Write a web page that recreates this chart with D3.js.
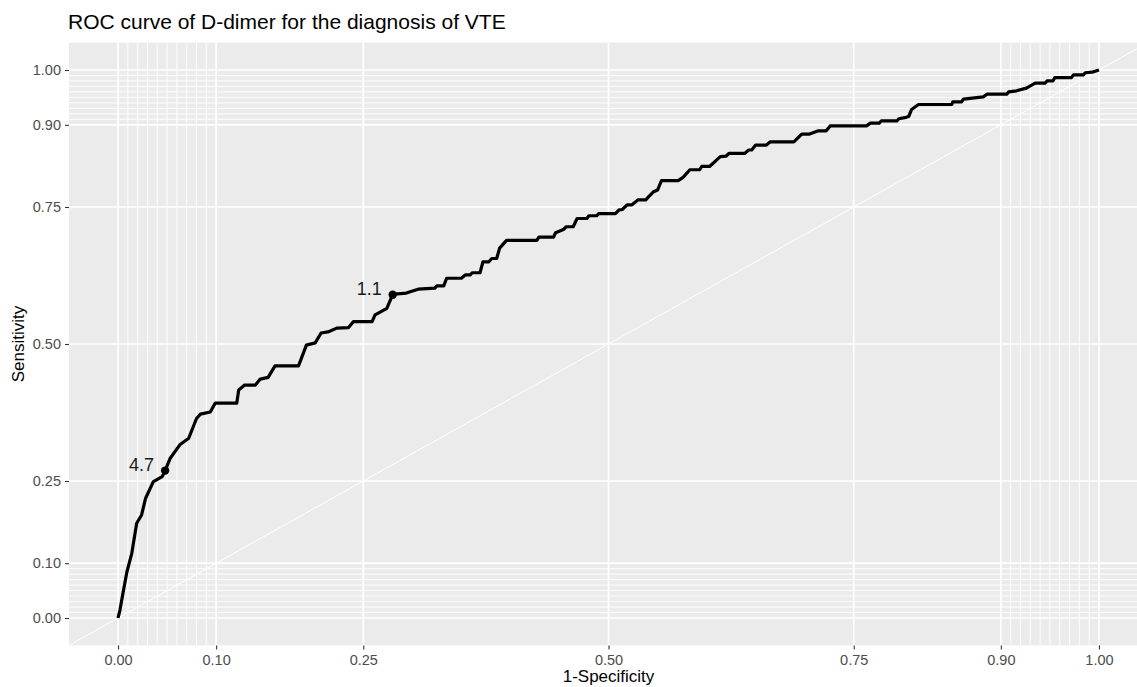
<!DOCTYPE html>
<html lang="en">
<head>
  <meta charset="UTF-8">
  <title>ROC curve of D-dimer</title>
  <script src="https://d3js.org/d3.v7.min.js"></script>
  <style>
    body { margin: 0; background: #fff; }
    svg { display: block; font-family: "Liberation Sans", Arial, sans-serif; }
    .tick text { fill: #4d4d4d; font-size: 14.5px; }
    .tick line { stroke: #333; }
  </style>
</head>
<body>
<svg width="1137" height="687"></svg>
<script>
  // ROC curve points (1-specificity, sensitivity)
  const fpr = [0, 0.002, 0.005, 0.009, 0.014, 0.019, 0.024, 0.028, 0.036, 0.045, 0.048, 0.053, 0.063, 0.072,
    0.080, 0.084, 0.094, 0.099, 0.121, 0.123, 0.129, 0.140, 0.145, 0.153, 0.160, 0.184, 0.192, 0.201,
    0.207, 0.214, 0.223, 0.235, 0.240, 0.259, 0.262, 0.269, 0.274, 0.280, 0.282, 0.294, 0.297, 0.306,
    0.323, 0.325, 0.332, 0.335, 0.350, 0.354, 0.359, 0.361, 0.369, 0.372, 0.378, 0.381, 0.386, 0.389,
    0.396, 0.427, 0.429, 0.444, 0.446, 0.454, 0.457, 0.464, 0.468, 0.478, 0.480, 0.488, 0.490, 0.507,
    0.511, 0.514, 0.519, 0.524, 0.530, 0.538, 0.541, 0.546, 0.550, 0.554, 0.571, 0.576, 0.583, 0.593,
    0.595, 0.603, 0.614, 0.620, 0.623, 0.639, 0.643, 0.646, 0.650, 0.661, 0.665, 0.689, 0.697, 0.705,
    0.714, 0.722, 0.726, 0.763, 0.767, 0.776, 0.778, 0.794, 0.796, 0.802, 0.806, 0.809, 0.816, 0.850,
    0.851, 0.860, 0.862, 0.882, 0.886, 0.906, 0.908, 0.916, 0.926, 0.935, 0.945, 0.947, 0.953, 0.955,
    0.972, 0.974, 0.984, 0.986, 0.993, 1];
  const tpr = [0, 0.015, 0.045, 0.084, 0.118, 0.173, 0.188, 0.218, 0.249, 0.258, 0.269, 0.291, 0.316, 0.328,
    0.364, 0.372, 0.376, 0.392, 0.392, 0.416, 0.425, 0.425, 0.436, 0.439, 0.460, 0.460, 0.498, 0.502,
    0.520, 0.522, 0.529, 0.530, 0.541, 0.541, 0.553, 0.560, 0.565, 0.590, 0.591, 0.593, 0.595, 0.600,
    0.602, 0.606, 0.606, 0.620, 0.620, 0.626, 0.626, 0.630, 0.630, 0.650, 0.650, 0.656, 0.656, 0.675,
    0.689, 0.689, 0.695, 0.695, 0.703, 0.709, 0.714, 0.714, 0.729, 0.729, 0.734, 0.734, 0.738, 0.738,
    0.745, 0.745, 0.754, 0.754, 0.763, 0.763, 0.769, 0.778, 0.781, 0.798, 0.798, 0.804, 0.818, 0.818,
    0.824, 0.824, 0.842, 0.843, 0.848, 0.848, 0.854, 0.854, 0.863, 0.863, 0.869, 0.869, 0.883, 0.883,
    0.889, 0.889, 0.898, 0.898, 0.903, 0.903, 0.907, 0.907, 0.911, 0.913, 0.915, 0.928, 0.937, 0.937,
    0.942, 0.942, 0.947, 0.951, 0.956, 0.956, 0.960, 0.962, 0.967, 0.976, 0.976, 0.980, 0.980, 0.986,
    0.986, 0.991, 0.991, 0.995, 0.996, 1];

  // labelled cutoffs
  const cutLabels = ["4.7", "1.1"];
  const cutFpr = [0.048, 0.280];
  const cutTpr = [0.269, 0.590];

  const majorBreaks = [0, 0.1, 0.25, 0.5, 0.75, 0.9, 1];
  const minorBreaks = [0.01, 0.02, 0.03, 0.04, 0.05, 0.06, 0.07, 0.08, 0.09,
    0.91, 0.92, 0.93, 0.94, 0.95, 0.96, 0.97, 0.98, 0.99];

  const svg = d3.select("svg");
  const pLeft = 69, pTop = 42.6, pRight = 1148, pBottom = 645.4;

  const x = d3.scaleLinear().domain([-0.05, 1.05]).range([pLeft, pRight]);
  const y = d3.scaleLinear().domain([-0.05, 1.05]).range([pBottom, pTop]);

  svg.append("defs").append("clipPath").attr("id", "clip")
    .append("rect").attr("x", pLeft).attr("y", pTop)
    .attr("width", pRight - pLeft).attr("height", pBottom - pTop);

  // panel
  svg.append("rect")
    .attr("x", pLeft).attr("y", pTop)
    .attr("width", pRight - pLeft).attr("height", pBottom - pTop)
    .attr("fill", "#ebebeb");

  const grid = svg.append("g").attr("clip-path", "url(#clip)");

  // minor grid
  grid.selectAll(".vmin").data(minorBreaks).enter().append("line")
    .attr("x1", d => x(d)).attr("x2", d => x(d))
    .attr("y1", pTop).attr("y2", pBottom)
    .attr("stroke", "#fff").attr("stroke-width", 0.9);
  grid.selectAll(".hmin").data(minorBreaks).enter().append("line")
    .attr("y1", d => y(d)).attr("y2", d => y(d))
    .attr("x1", pLeft).attr("x2", pRight)
    .attr("stroke", "#fff").attr("stroke-width", 0.9);

  // major grid
  grid.selectAll(".vmaj").data(majorBreaks).enter().append("line")
    .attr("x1", d => x(d)).attr("x2", d => x(d))
    .attr("y1", pTop).attr("y2", pBottom)
    .attr("stroke", "#fff").attr("stroke-width", 1.7);
  grid.selectAll(".hmaj").data(majorBreaks).enter().append("line")
    .attr("y1", d => y(d)).attr("y2", d => y(d))
    .attr("x1", pLeft).attr("x2", pRight)
    .attr("stroke", "#fff").attr("stroke-width", 1.7);

  // reference diagonal
  grid.append("line")
    .attr("x1", x(-0.05)).attr("y1", y(-0.05))
    .attr("x2", x(1.05)).attr("y2", y(1.05))
    .attr("stroke", "#fff").attr("stroke-width", 1);

  // ROC curve
  const pts = fpr.map((d, i) => [d, tpr[i]]);
  grid.append("path")
    .datum(pts)
    .attr("fill", "none")
    .attr("stroke", "#000")
    .attr("stroke-width", 3.2)
    .attr("stroke-linejoin", "round")
    .attr("d", d3.line().x(d => x(d[0])).y(d => y(d[1])));

  // cutoff points + labels
  cutLabels.forEach((lab, i) => {
    grid.append("circle")
      .attr("cx", x(cutFpr[i])).attr("cy", y(cutTpr[i]))
      .attr("r", 4.2).attr("fill", "#000");
    svg.append("text")
      .attr("x", x(cutFpr[i]) - 11)
      .attr("y", y(cutTpr[i]) - 4)
      .attr("text-anchor", "end")
      .attr("dominant-baseline", "middle")
      .attr("font-size", "18px")
      .attr("fill", "#1a1a1a")
      .text(lab);
  });

  // axes
  const xAxis = d3.axisBottom(x).tickValues(majorBreaks).tickFormat(d3.format(".2f"))
    .tickSize(4).tickPadding(5);
  svg.append("g").attr("transform", `translate(0,${pBottom})`).call(xAxis)
    .call(g => g.select(".domain").remove());

  const yAxis = d3.axisLeft(y).tickValues(majorBreaks).tickFormat(d3.format(".2f"))
    .tickSize(4).tickPadding(4);
  svg.append("g").attr("transform", `translate(${pLeft},0)`).call(yAxis)
    .call(g => g.select(".domain").remove());

  svg.selectAll(".tick line").attr("stroke-width", 1.1);

  // titles
  svg.append("text")
    .attr("x", pLeft - 1).attr("y", 29)
    .attr("font-size", "21px").attr("fill", "#000")
    .text("ROC curve of D-dimer for the diagnosis of VTE");

  svg.append("text")
    .attr("x", x(0.5)).attr("y", 682)
    .attr("text-anchor", "middle")
    .attr("font-size", "17px").attr("fill", "#000")
    .text("1-Specificity");

  svg.append("text")
    .attr("transform", `translate(24,${(pTop + pBottom) / 2}) rotate(-90)`)
    .attr("text-anchor", "middle")
    .attr("font-size", "17px").attr("fill", "#000")
    .text("Sensitivity");
</script>
</body>
</html>
